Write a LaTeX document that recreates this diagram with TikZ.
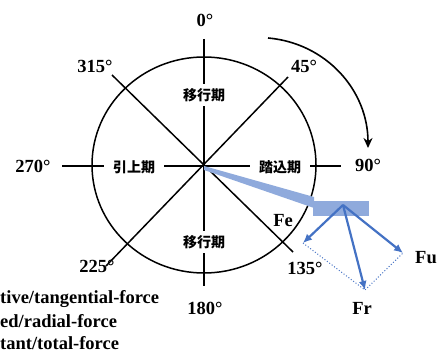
\documentclass[tikz,border=0pt]{standalone}
\usepackage{fontspec}
\setmainfont{Liberation Serif}
\newfontfamily\cjk{Noto Sans CJK JP}
\usetikzlibrary{arrows.meta,positioning}
\definecolor{bandblue}{RGB}{143,170,220}
\definecolor{forceblue}{RGB}{68,114,196}
\tikzset{deg/.style = {font = \bfseries\fontsize{18.5}{20}\selectfont, inner sep = 0pt},
         phase/.style = {fill = white, inner xsep = 9pt, inner ysep = 4pt, font = \cjk\bfseries\fontsize{14}{14}\selectfont},
         spoke/.style = {line width = 1.5pt},
         force/.style = {draw = forceblue, line width = 2.2pt, -{Latex[length = 9pt, width = 8pt]}},
         comp/.style = {draw = forceblue, line width = 1pt, dotted},
         legend/.style = {anchor = base west, inner sep = 0pt, font = \bfseries\fontsize{18.5}{20}\selectfont},
}

\begin{document}
\begin{tikzpicture}[x = 1pt, y = 1pt]
  \useasboundingbox (0,0) rectangle (438,359);
  \coordinate (O) at (204,193);

  % spokes and pedal circle
  \coordinate (TOP) at (204,320);
  \coordinate (BOT) at (204,73);
  \coordinate (LEFT) at (62,193);
  \coordinate (RIGHT) at (341,193);
  \coordinate (NW) at (112,284);
  \coordinate (SE) at (293,107);
  \coordinate (NE) at (288,282);
  \coordinate (SW) at (106,93);
  \draw[spoke] (TOP) -- (BOT);
  \draw[spoke] (LEFT) -- (RIGHT);
  \draw[spoke] (NW) -- (SE);
  \draw[spoke] (NE) -- (SW);
  \draw[spoke] (204,194) ellipse [x radius = 112, y radius = 108];

  \node[phase] (UP) at (204,264) {移行期};
  \node[phase] (DOWN) at (204,117) {移行期};
  \node[phase] (PULL) at (134,192) {引上期};
  \node[phase] (PUSH) at (280,192) {踏込期};

  \node[deg] (D0) at (205,339) {0°};
  \node[deg] (D45) at (304,293) {45°};
  \node[deg] (D90) at (368,194) {90°};
  \node[deg] (D135) at (305,91) {135°};
  \node[deg] (D180) at (205,51) {180°};
  \node[deg] (D225) at (97,93) {225°};
  \node[deg] (D270) at (33,193) {270°};
  \node[deg] (D315) at (95,293) {315°};

  % rotation
  \coordinate (ROTS) at (268,321);
  \coordinate (ROTE) at (368,211);
  \draw[line width = 1.6pt, -{Stealth[length = 10pt, width = 9pt]}] (ROTS) to[out = -5, in = 90] (ROTE);

  % crank and pedal
  \fill[bandblue] (O) -- (314,162) -- (314,151) -- (204,189) -- cycle;
  \fill[bandblue] (313,158) rectangle (369,143);

  \coordinate (P) at (343,154);
  \coordinate (FE) at (303,116);
  \coordinate (FR) at (365,69);
  \coordinate (FU) at (403,106);
  \draw[comp] (FE) -- (FR) -- (FU);
  \draw[force] (P) -- (FE);
  \draw[force] (P) -- (FR);
  \draw[force] (P) -- (FU);

  \node[deg] (LFE) at (283,138) {Fe};
  \node[deg] (LFU) at (426,101) {Fu};
  \node[deg] (LFR) at (362,51) {Fr};

  \node[legend] (L1) at (0,56) {tive/tangential-force};
  \node[legend] (L2) at (0,32) {ed/radial-force};
  \node[legend] (L3) at (0,10) {tant/total-force};
\end{tikzpicture}
\end{document}
